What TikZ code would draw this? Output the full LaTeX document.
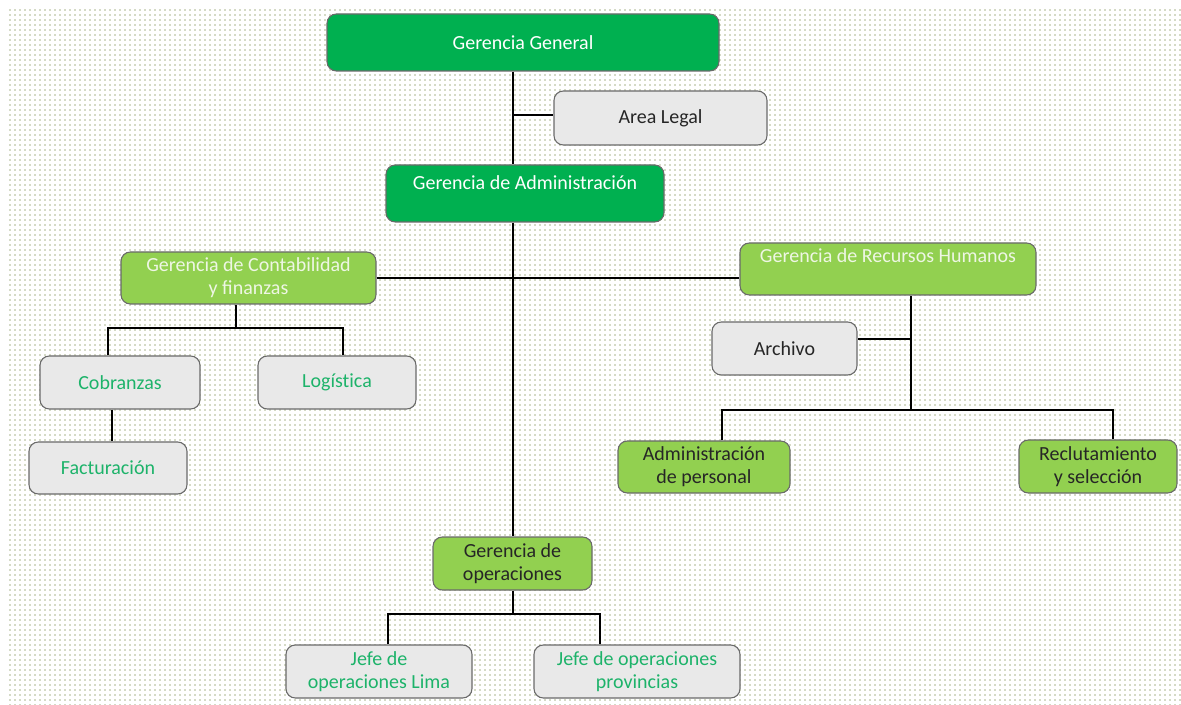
\documentclass[tikz,border=0pt]{standalone}
\usepackage{fontspec}
\setmainfont{Carlito}
\usetikzlibrary{patterns.meta}
\definecolor{dkgreen}{HTML}{00B050}
\definecolor{ltgreen}{HTML}{92D050}
\definecolor{boxgray}{HTML}{E9E9E9}
\definecolor{edgegray}{HTML}{6A6A6A}
\definecolor{txtgreen}{HTML}{1DB36A}
\definecolor{txtpale}{HTML}{EEF6E4}
\definecolor{dotcol}{RGB}{172,182,140}
\begin{document}
\begin{tikzpicture}[x=0.75pt,y=-0.75pt,
  every node/.style={font=\fontsize{15}{17.5}\selectfont, align=center},
  wh/.style 2 args={minimum width=#1*0.75pt, minimum height=#2*0.75pt, inner sep=0pt},
  base/.style={draw=edgegray, line width=0.8pt, rounded corners=7pt},
  dkbox/.style={base, fill=dkgreen, text=white},
  ltbox/.style={base, fill=ltgreen, text=black!85},
  palebox/.style={base, fill=ltgreen, text=txtpale},
  graybox/.style={base, fill=boxgray, text=black!85},
  gtbox/.style={base, fill=boxgray, text=txtgreen},
  lbl/.style={inner sep=0pt},
  conn/.style={draw=black, line width=1.5pt}
]
\useasboundingbox (0,0) rectangle (1181,705);
\fill[white] (0,0) rectangle (1181,705);
\fill[pattern={Dots[distance=3.75pt, radius=0.6pt]}, pattern color=dotcol] (6,9) rectangle (1181,705);

% nodes
\node[dkbox, wh={392}{57}] (gg) at (523,42.5) {Gerencia General};
\node[graybox, wh={213}{54}] (legal) at (660.5,118) {Area Legal};
\node[dkbox, wh={278}{57}] (adm) at (525,193.5) {};
\node[lbl, text=white] (admt) at (525,183) {Gerencia de Administración};
\node[palebox, wh={255}{52}] (cont) at (248.5,278) {Gerencia de Contabilidad\\y finanzas};
\node[palebox, wh={296}{52}] (rrhh) at (888,269) {};
\node[lbl, text=txtpale] (rrhht) at (888,256) {Gerencia de Recursos Humanos};
\node[gtbox, wh={160}{53}] (cob) at (120,382.5) {Cobranzas};
\node[gtbox, wh={158}{53}] (log) at (337,382.5) {\addfontfeature{Ligatures=NoCommon}Logística};
\node[gtbox, wh={158}{52}] (fact) at (108,468) {Facturación};
\node[graybox, wh={145}{53}] (arch) at (784.5,348.5) {Archivo};
\node[ltbox, wh={172}{52}] (admp) at (704,467) {Administración\\de personal};
\node[ltbox, wh={158}{53}] (recl) at (1098,466.5) {Reclutamiento\\y selección};
\node[ltbox, wh={159}{53}] (ope) at (512.5,563.5) {Gerencia de\\operaciones};
\node[gtbox, wh={186}{53}] (lima) at (379,671.5) {Jefe de\\operaciones Lima};
\node[gtbox, wh={206}{53}] (prov) at (637,671.5) {Jefe de operaciones\\provincias};

% junction coordinates
\coordinate (lj) at (513,115);
\coordinate (cj) at (236,328);
\coordinate (cL) at (108,328);
\coordinate (cR) at (343,328);
\coordinate (fx) at (112,425);
\coordinate (rj) at (911,410);
\coordinate (aj) at (911,339);
\coordinate (rL) at (722,410);
\coordinate (rR) at (1113,410);
\coordinate (oj) at (513,614);
\coordinate (oL) at (388,614);
\coordinate (oR) at (600,614);

% connectors
\draw[conn] (gg.south -| lj) -- (adm.north -| lj);
\draw[conn] (lj) -- (lj -| legal.west);
\draw[conn] (adm.south -| lj) -- (ope.north -| lj);
\draw[conn] (cont.east) -- (cont.east -| rrhh.west);
\draw[conn] (cont.south -| cj) -- (cj);
\draw[conn] (cob.north -| cL) -- (cL) -- (cR) -- (log.north -| cR);
\draw[conn] (cob.south -| fx) -- (fact.north -| fx);
\draw[conn] (rrhh.south -| rj) -- (rj);
\draw[conn] (aj) -- (aj -| arch.east);
\draw[conn] (admp.north -| rL) -- (rL) -- (rR) -- (recl.north -| rR);
\draw[conn] (ope.south -| oj) -- (oj);
\draw[conn] (lima.north -| oL) -- (oL) -- (oR) -- (prov.north -| oR);
\end{tikzpicture}
\end{document}
